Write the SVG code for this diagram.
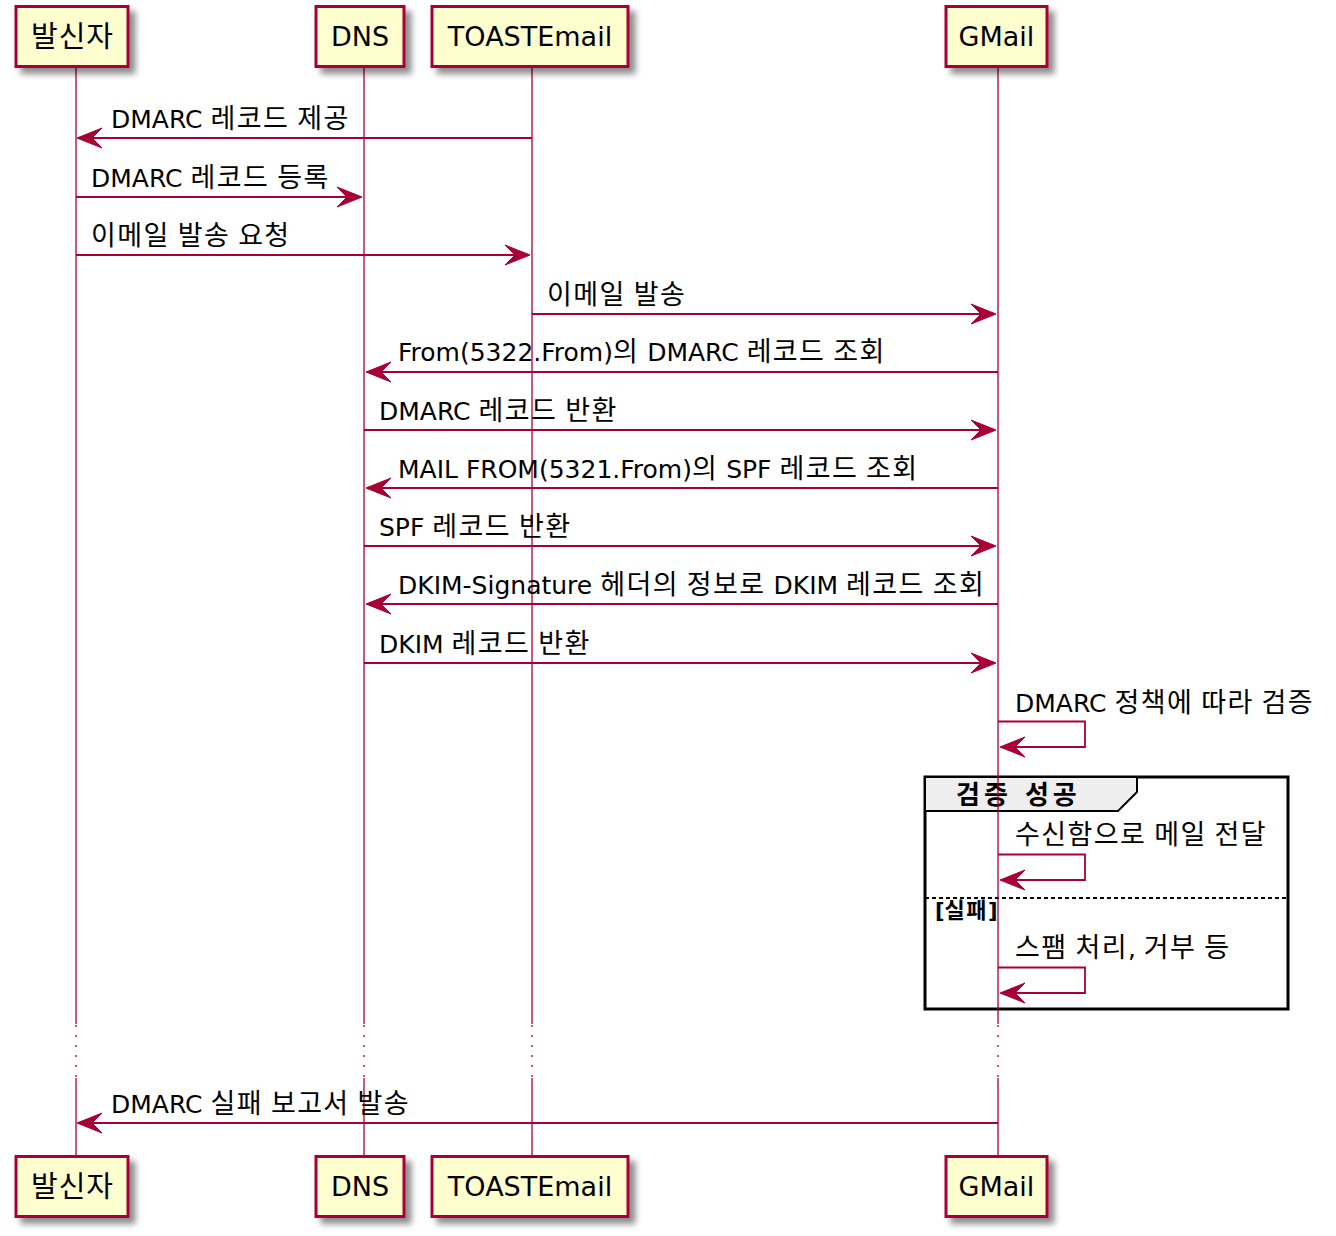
<svg xmlns="http://www.w3.org/2000/svg" width="1336" height="1236" viewBox="0 0 1336 1236">
<style>
.box{fill:#FEFECE;stroke:#A80036;stroke-width:3;filter:url(#sh)}
.pt{font-family:"DejaVu Sans","Noto Sans CJK KR",sans-serif;font-size:27px;fill:#000;text-anchor:middle}
.pk{font-size:29px;letter-spacing:1px}
.life{stroke:#A80036;stroke-width:1.3;fill:none}
.dots{stroke:#A80036;stroke-width:1.3;stroke-dasharray:2,8;fill:none}
.msg{stroke:#A80036;stroke-width:1.8;fill:none}
.ah{fill:#A80036;stroke:#A80036;stroke-width:1}
.mt{font-family:"DejaVu Sans","Noto Sans CJK KR",sans-serif;font-size:25px;fill:#000}
.k{font-size:27px;letter-spacing:1.4px}
.gb{fill:none;stroke:#000;stroke-width:3}
.gh{fill:#EEEEEE;stroke:#000;stroke-width:2}
.ght{font-family:"DejaVu Sans","Noto Sans CJK KR",sans-serif;font-size:26px;font-weight:bold;letter-spacing:4px;fill:#000}
.else{font-family:"DejaVu Sans","Noto Sans CJK KR",sans-serif;font-size:21px;font-weight:bold;fill:#000}
.ke{font-size:22px;letter-spacing:1.5px}
.sep{stroke:#000;stroke-width:1.8;stroke-dasharray:4,3}
</style>
<defs>
<filter id="sh" x="-20%" y="-20%" width="150%" height="160%">
<feGaussianBlur in="SourceAlpha" stdDeviation="3"/>
<feOffset dx="6" dy="6" result="b"/>
<feComponentTransfer><feFuncA type="linear" slope="0.45"/></feComponentTransfer>
<feMerge><feMergeNode/><feMergeNode in="SourceGraphic"/></feMerge>
</filter>
<polygon id="al" class="ah" points="0,0 25,-10 15,0 25,10"/>
<polygon id="ar" class="ah" points="0,0 -25,-10 -15,0 -25,10"/>
</defs>

<g id="group-verify">
<rect class="gb" x="925" y="777" width="363" height="232"/>
<polygon class="gh" points="925,777 1137,777 1137,792 1118,811 925,811"/>
<text class="ght" x="956" y="804">검증 성공</text>
<line class="sep" x1="925" y1="898" x2="1288" y2="898"/>
<text class="else" x="935" y="918">[<tspan class="ke">실패</tspan>]</text>
</g>

<g id="lifelines">
<line class="life" x1="76" y1="67" x2="76" y2="1024"/>
<line class="dots" x1="76" y1="1025" x2="76" y2="1078"/>
<line class="life" x1="76" y1="1078" x2="76" y2="1156"/>
<line class="life" x1="364" y1="67" x2="364" y2="1024"/>
<line class="dots" x1="364" y1="1025" x2="364" y2="1078"/>
<line class="life" x1="364" y1="1078" x2="364" y2="1156"/>
<line class="life" x1="532" y1="67" x2="532" y2="1024"/>
<line class="dots" x1="532" y1="1025" x2="532" y2="1078"/>
<line class="life" x1="532" y1="1078" x2="532" y2="1156"/>
<line class="life" x1="998" y1="67" x2="998" y2="1024"/>
<line class="dots" x1="998" y1="1025" x2="998" y2="1078"/>
<line class="life" x1="998" y1="1078" x2="998" y2="1156"/>
</g>

<g id="p-sender">
<rect class="box" x="16" y="6.5" width="112" height="60"/>
<text class="pt pk" x="72.5" y="47">발신자</text>
<rect class="box" x="16" y="1156.5" width="112" height="60"/>
<text class="pt pk" x="72.5" y="1197">발신자</text>
</g>
<g id="p-dns">
<rect class="box" x="316" y="6.5" width="88" height="60"/>
<text class="pt" x="360" y="46">DNS</text>
<rect class="box" x="316" y="1156.5" width="88" height="60"/>
<text class="pt" x="360" y="1196">DNS</text>
</g>
<g id="p-toast">
<rect class="box" x="432" y="6.5" width="196" height="60"/>
<text class="pt" x="530" y="46">TOASTEmail</text>
<rect class="box" x="432" y="1156.5" width="196" height="60"/>
<text class="pt" x="530" y="1196">TOASTEmail</text>
</g>
<g id="p-gmail">
<rect class="box" x="946" y="6.5" width="101" height="60"/>
<text class="pt" x="996.5" y="46">GMail</text>
<rect class="box" x="946" y="1156.5" width="101" height="60"/>
<text class="pt" x="996.5" y="1196">GMail</text>
</g>

<g id="connectors">
<line class="msg" x1="532" y1="138" x2="78" y2="138"/><use href="#al" x="77" y="138"/>
<text class="mt" x="111" y="128">DMARC <tspan class="k">레코드</tspan> <tspan class="k">제공</tspan></text>

<line class="msg" x1="76" y1="197" x2="360" y2="197"/><use href="#ar" x="362" y="197"/>
<text class="mt" x="91" y="187">DMARC <tspan class="k">레코드</tspan> <tspan class="k">등록</tspan></text>

<line class="msg" x1="76" y1="255" x2="528" y2="255"/><use href="#ar" x="530" y="255"/>
<text class="mt" x="91" y="245"><tspan class="k">이메일</tspan> <tspan class="k">발송</tspan> <tspan class="k">요청</tspan></text>

<line class="msg" x1="532" y1="314" x2="994" y2="314"/><use href="#ar" x="996" y="314"/>
<text class="mt" x="547" y="304"><tspan class="k">이메일</tspan> <tspan class="k">발송</tspan></text>

<line class="msg" x1="998" y1="372" x2="367" y2="372"/><use href="#al" x="366" y="372"/>
<text class="mt" x="398" y="361">From(5322.From)<tspan class="k">의</tspan> DMARC <tspan class="k">레코드</tspan> <tspan class="k">조회</tspan></text>

<line class="msg" x1="364" y1="430" x2="994" y2="430"/><use href="#ar" x="996" y="430"/>
<text class="mt" x="379" y="420">DMARC <tspan class="k">레코드</tspan> <tspan class="k">반환</tspan></text>

<line class="msg" x1="998" y1="488" x2="367" y2="488"/><use href="#al" x="366" y="488"/>
<text class="mt" x="398" y="478">MAIL FROM(5321.From)<tspan class="k">의</tspan> SPF <tspan class="k">레코드</tspan> <tspan class="k">조회</tspan></text>

<line class="msg" x1="364" y1="546" x2="994" y2="546"/><use href="#ar" x="996" y="546"/>
<text class="mt" x="379" y="536">SPF <tspan class="k">레코드</tspan> <tspan class="k">반환</tspan></text>

<line class="msg" x1="998" y1="604" x2="367" y2="604"/><use href="#al" x="366" y="604"/>
<text class="mt" x="398" y="594">DKIM-Signature <tspan class="k">헤더의</tspan> <tspan class="k">정보로</tspan> DKIM <tspan class="k">레코드</tspan> <tspan class="k">조회</tspan></text>

<line class="msg" x1="364" y1="663" x2="994" y2="663"/><use href="#ar" x="996" y="663"/>
<text class="mt" x="379" y="653">DKIM <tspan class="k">레코드</tspan> <tspan class="k">반환</tspan></text>

<polyline class="msg" points="998,721.5 1085,721.5 1085,747 1002,747"/><use href="#al" x="1000" y="747"/>
<text class="mt" x="1015" y="712">DMARC <tspan class="k">정책에</tspan> <tspan class="k">따라</tspan> <tspan class="k">검증</tspan></text>

<polyline class="msg" points="998,854.5 1085,854.5 1085,880 1002,880"/><use href="#al" x="1000" y="880"/>
<text class="mt" x="1015" y="844"><tspan class="k">수신함으로</tspan> <tspan class="k">메일</tspan> <tspan class="k">전달</tspan></text>

<polyline class="msg" points="998,967.5 1085,967.5 1085,993 1002,993"/><use href="#al" x="1000" y="993"/>
<text class="mt" x="1015" y="957"><tspan class="k">스팸</tspan> <tspan class="k">처리</tspan>, <tspan class="k">거부</tspan> <tspan class="k">등</tspan></text>

<line class="msg" x1="998" y1="1123" x2="78" y2="1123"/><use href="#al" x="77" y="1123"/>
<text class="mt" x="111" y="1113">DMARC <tspan class="k">실패</tspan> <tspan class="k">보고서</tspan> <tspan class="k">발송</tspan></text>
</g>
</svg>
